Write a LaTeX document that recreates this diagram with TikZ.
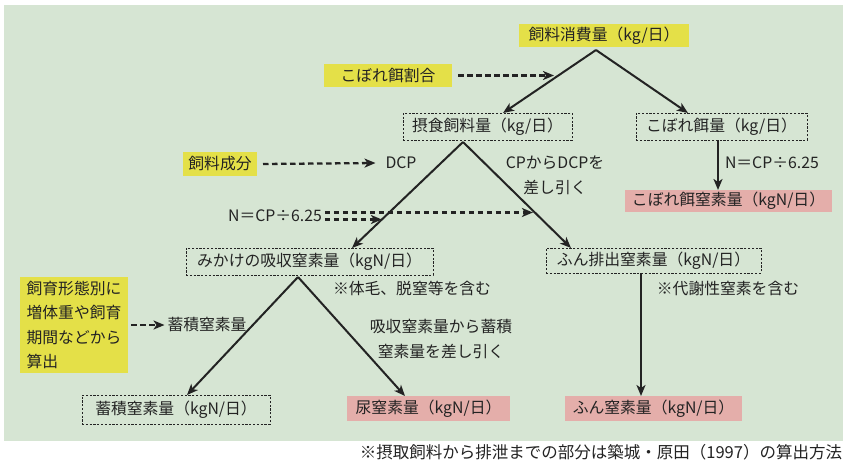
\documentclass[tikz,border=0pt]{standalone}
\usepackage{fontspec}
\setmainfont{Noto Sans CJK JP}
\usetikzlibrary{arrows.meta}
\definecolor{bg}{RGB}{214,229,211}
\definecolor{ylw}{RGB}{228,224,72}
\definecolor{pnk}{RGB}{228,174,170}
\definecolor{ink}{RGB}{35,35,35}
\tikzset{
  yb/.style={fill=ylw},
  pb/.style={fill=pnk},
  db/.style={draw=ink, line width=0.9pt, dash pattern=on 2.2pt off 1.6pt},
  arr/.style={draw=ink, line width=2pt, -{Stealth[length=11pt,width=9pt,inset=3pt]}},
  darr/.style={arr, line width=2.3pt, dash pattern=on 5.5pt off 3.5pt},
  lbl/.style={text=ink},
}
\begin{document}
\begin{tikzpicture}[x=1pt,y=-1pt, font=\fontsize{15.8}{24.5}\selectfont,
  every node/.style={inner sep=0pt, outer sep=0pt, text=ink}]
\useasboundingbox (0,0) rectangle (843,464);
\fill[white] (0,0) rectangle (843,464);
\fill[bg] (4,5) rectangle (843,441);

% nodes
\node[yb, minimum width=170pt, minimum height=23pt] (A) at (604,35.5) {飼料消費量（kg/日）};
\node[yb, minimum width=128pt, minimum height=23pt] (B) at (388,75.5) {こぼれ餌割合};
\node[db, minimum width=169pt, minimum height=27pt] (C) at (487.5,126.5) {摂食飼料量（kg/日）};
\node[db, minimum width=171pt, minimum height=27pt] (D) at (721.5,126.5) {こぼれ餌量（kg/日）};
\node[pb, minimum width=207pt, minimum height=22pt] (E) at (728.5,201) {こぼれ餌窒素量（kgN/日）};
\node[yb, minimum width=74pt, minimum height=24pt] (F) at (220,164) {飼料成分};
\node[lbl] (G) at (401,163) {DCP};
\node[lbl, align=center] (H) at (555,175.5) {CPからDCPを\\差し引く};
\node[lbl] (I) at (275,216) {N＝CP÷6.25};
\node[lbl, anchor=west] (E1) at (725,163) {N＝CP÷6.25};
\node[db, minimum width=247pt, minimum height=27pt] (J) at (309.5,261.5) {みかけの吸収窒素量（kgN/日）};
\node[db, minimum width=215pt, minimum height=25pt] (K) at (653.5,260.5) {ふん排出窒素量（kgN/日）};
\node[lbl] (L) at (412,288) {※体毛、脱窒等を含む};
\node[lbl] (M) at (728,288) {※代謝性窒素を含む};
\node[yb, minimum width=108pt, minimum height=96pt, align=left] (N) at (74,325) {飼育形態別に\\増体重や飼育\\期間などから\\算出};
\node[lbl] (O) at (207,325) {蓄積窒素量};
\node[lbl, align=center] (P) at (441,339) {吸収窒素量から蓄積\\窒素量を差し引く};
\node[db, minimum width=188pt, minimum height=29pt] (Q) at (176,409.5) {蓄積窒素量（kgN/日）};
\node[pb, minimum width=163pt, minimum height=25pt] (R) at (428.5,408.5) {尿窒素量（kgN/日）};
\node[pb, minimum width=177pt, minimum height=25pt] (S) at (653.5,408.5) {ふん窒素量（kgN/日）};
\node[lbl, anchor=east, font=\fontsize{16.5}{20}\selectfont] (T) at (842,452) {※摂取飼料から排泄までの部分は築城・原田（1997）の算出方法};

% apex coordinates
\coordinate (a1) at (596,50);
\coordinate (a2) at (463,142);
\coordinate (a3) at (298,277);

% connectors
\draw[arr] (a1) -- ([xshift=15.5pt]C.north);
\draw[arr] (a1) -- ([xshift=-33.5pt]D.north);
\draw[darr] ([xshift=6pt]B.east) -- ++(96,0) coordinate (b1);
\draw[arr] ([xshift=-3.5pt]D.south) -- ([xshift=-3.5pt]D.south |- E.north);
\draw[darr] ([xshift=6pt]F.east) -- ([xshift=-10pt]G.west);
\draw[arr] (a2) -- ([xshift=42.5pt]J.north);
\draw[arr] (a2) -- ([xshift=-82.5pt]K.north);
\draw[darr] ([xshift=3pt,yshift=-3.5pt]I.east) -- ++(57,0) coordinate (i1);
\draw[darr] ([xshift=3pt,yshift=3.5pt]I.east) -- ++(208,0) coordinate (i2);
\draw[arr] (a3) -- ([xshift=11pt]Q.north);
\draw[arr] (a3) -- ([xshift=-23.5pt]R.north);
\draw[darr] ([xshift=3pt]N.east) -- ([xshift=-3pt]O.west);
\draw[arr] ([xshift=-12.5pt]K.south) -- ([xshift=-12.5pt]K.south |- S.north);
\end{tikzpicture}
\end{document}
